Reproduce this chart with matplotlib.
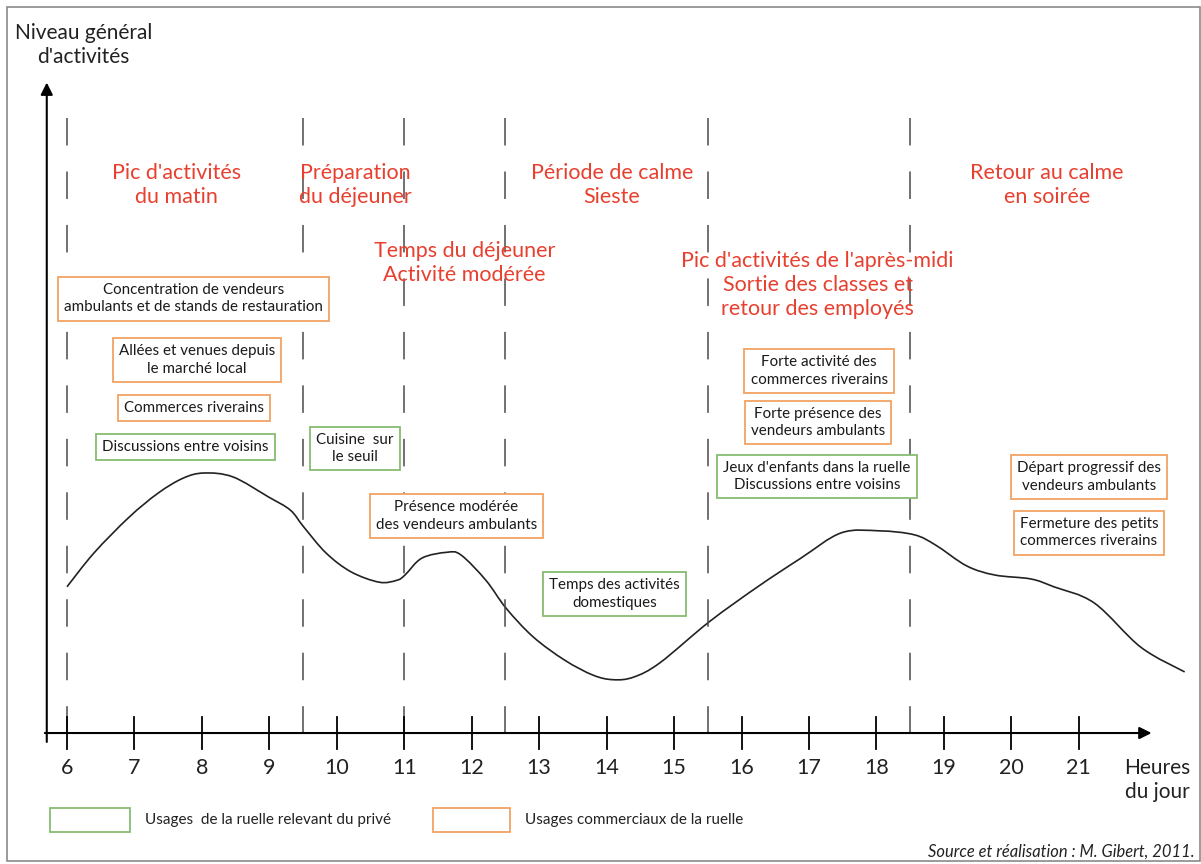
import matplotlib
matplotlib.use("Agg")
import numpy as np
import matplotlib.pyplot as plt
from matplotlib.patches import Rectangle, PathPatch
from matplotlib.path import Path

plt.rcParams["font.family"] = ["Lato", "DejaVu Sans"]

# activity curve (hour, level)
HOURS = [6.0, 6.40, 6.92, 7.35, 7.72, 8.03, 8.46, 8.99, 9.31, 9.51, 9.84, 10.21,
         10.63, 10.89, 11.01, 11.26, 11.63, 11.84, 12.21, 12.51, 12.91, 13.38,
         13.80, 14.10, 14.40, 14.79, 15.52, 16.24, 16.88, 17.48, 18.05, 18.56, 18.88,
         19.34, 19.76, 20.29, 20.63, 21.23, 21.92, 22.57]
LEVEL = [22.5, 27.7, 33.2, 36.9, 39.2, 40.0, 39.4, 36.3, 34.3, 31.7, 27.7, 24.8,
         23.2, 23.5, 24.3, 26.9, 27.8, 27.4, 23.5, 19.2, 14.8, 11.2,
         8.9, 8.2, 8.6, 10.8, 17.1, 22.5, 26.9, 30.8, 31.1, 30.5, 28.9,
         25.7, 24.3, 23.7, 22.5, 20.0, 13.2, 9.4]

TICK_HOURS = list(range(6, 22))
PERIOD_LIMITS = [6, 9.5, 11, 12.5, 15.5, 18.5]

RED = "#e8402f"
ORANGE = "#f2a262"
GREEN = "#86bd72"

# period titles (red): text, hour, level
PERIODS = [
    ("Pic d'activités\ndu matin", 7.62, 84.3),
    ("Préparation\ndu déjeuner", 10.27, 84.3),
    ("Période de calme\nSieste", 14.08, 84.3),
    ("Temps du déjeuner\nActivité modérée", 11.89, 72.3),
    ("Pic d'activités de l'après-midi\nSortie des classes et\nretour des employés", 17.13, 69.0),
    ("Retour au calme\nen soirée", 20.53, 84.3),
]

# usages: text, hour, level, kind
USAGES = [
    ("Concentration de vendeurs\nambulants et de stands de restauration", 7.88, 66.8, "com"),
    ("Allées et venues depuis\nle marché local", 7.93, 57.4, "com"),
    ("Commerces riverains", 7.88, 50.0, "com"),
    ("Discussions entre voisins", 7.76, 44.0, "priv"),
    ("Cuisine  sur\nle seuil", 10.27, 43.8, "priv"),
    ("Présence modérée\ndes vendeurs ambulants", 11.77, 33.4, "com"),
    ("Temps des activités\ndomestiques", 14.12, 21.4, "priv"),
    ("Forte activité des\ncommerces riverains", 17.15, 55.7, "com"),
    ("Forte présence des\nvendeurs ambulants", 17.13, 47.8, "com"),
    ("Jeux d'enfants dans la ruelle\nDiscussions entre voisins", 17.12, 39.5, "priv"),
    ("Départ progressif des\nvendeurs ambulants", 21.15, 39.4, "com"),
    ("Fermeture des petits\ncommerces riverains", 21.15, 30.8, "com"),
]


def smooth_path(xs, ys):
    # Catmull-Rom through the read points, drawn as cubic Bezier segments
    pts = np.column_stack([xs, ys])
    verts = [pts[0]]
    codes = [Path.MOVETO]
    n = len(pts)
    for i in range(n - 1):
        p0 = pts[i - 1] if i > 0 else pts[i]
        p1, p2 = pts[i], pts[i + 1]
        p3 = pts[i + 2] if i + 2 < n else pts[i + 1]
        verts += [p1 + (p2 - p0) / 6, p2 - (p3 - p1) / 6, p2]
        codes += [Path.CURVE4] * 3
    return Path(verts, codes)


fig = plt.figure(figsize=(12.01, 8.64), dpi=100)
ax = fig.add_axes([0, 0, 1, 1])
ax.set_xlim(5.0067, 22.812)
ax.set_ylim(-20.15, 112.77)
ax.axis("off")

# frame
ax.add_patch(Rectangle((5.11, -19.7), 17.69, 131.4, fill=False, ec="#8a8a8a", lw=1.2))

# period separators
for h in PERIOD_LIMITS:
    ax.plot([h, h], [94.6, -2.6], color="#4a4a4a", lw=1.1, dashes=(18, 17))

# axes with arrows
ax.annotate("", xy=(22.12, 0), xytext=(5.63, 0),
            arrowprops=dict(arrowstyle="-|>", lw=1.5, color="black", mutation_scale=18))
ax.annotate("", xy=(5.70, 100.5), xytext=(5.70, -1.8),
            arrowprops=dict(arrowstyle="-|>", lw=1.5, color="black", mutation_scale=18))
for h in TICK_HOURS:
    ax.plot([h, h], [2.5, -2.5], color="black", lw=1.3)
    ax.text(h, -5.4, str(h), ha="center", va="center", fontsize=15.5, color="#222222")

ax.text(22.16, -7.3, "Heures\ndu jour", ha="center", va="center", fontsize=15,
        color="#222222", linespacing=1.25)
ax.text(6.24, 105.9, "Niveau général\nd'activités", ha="center", va="center", fontsize=15,
        color="#222222", linespacing=1.25)

# curve
ax.add_patch(PathPatch(smooth_path(HOURS, LEVEL), fill=False, ec="#222222", lw=1.2))

for txt, h, lv in PERIODS:
    ax.text(h, lv, txt, ha="center", va="center", fontsize=15.5, color=RED, linespacing=1.25)

for txt, h, lv, kind in USAGES:
    ec = ORANGE if kind == "com" else GREEN
    ax.text(h, lv, txt, ha="center", va="center", fontsize=10.9, color="#1a1a1a",
            linespacing=1.3,
            bbox=dict(boxstyle="square,pad=0.4", fc="white", ec=ec, lw=1.3))

# legend
ax.add_patch(Rectangle((5.75, -15.2), 1.18, 3.7, fill=False, ec=GREEN, lw=1.3))
ax.text(7.16, -13.4, "Usages  de la ruelle relevant du privé", ha="left", va="center",
        fontsize=11, color="#222222")
ax.add_patch(Rectangle((11.43, -15.2), 1.14, 3.7, fill=False, ec=ORANGE, lw=1.3))
ax.text(12.79, -13.4, "Usages commerciaux de la ruelle", ha="left", va="center",
        fontsize=11, color="#222222")

ax.text(22.72, -18.2, "Source et réalisation : M. Gibert, 2011.", ha="right", va="center",
        fontsize=11.9, style="italic", color="#222222")

fig.savefig("out.png", dpi=100)
